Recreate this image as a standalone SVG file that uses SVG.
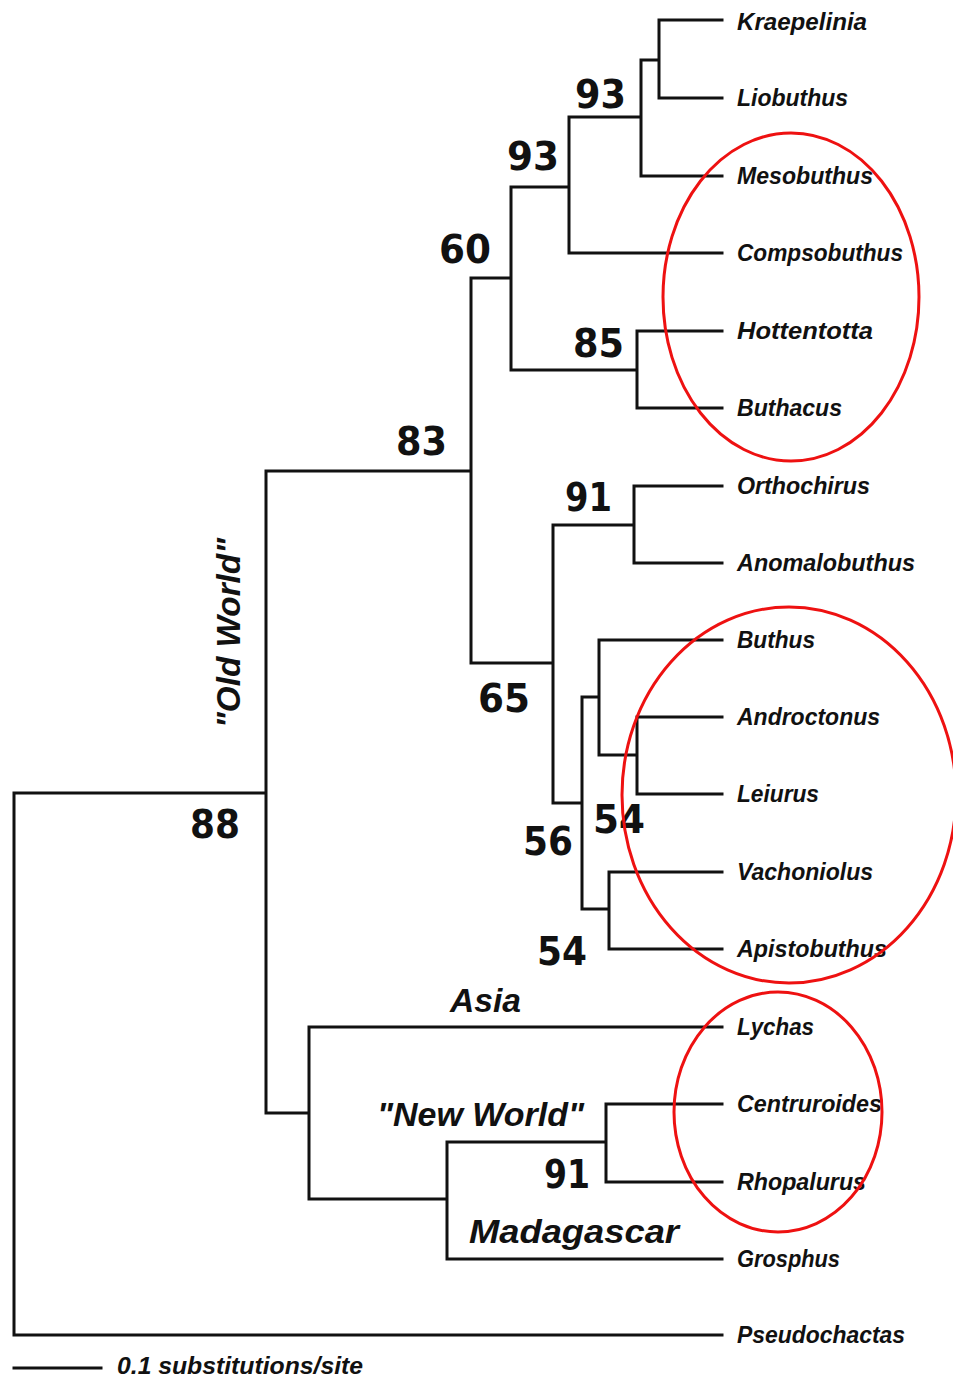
<svg xmlns="http://www.w3.org/2000/svg" width="953" height="1378" viewBox="0 0 953 1378">
<style>
.br{fill:none;stroke:#111;stroke-width:3;stroke-linecap:square}
.tx{font-family:"Liberation Sans",Arial,sans-serif;font-style:italic;font-weight:bold;font-size:23px;fill:#111}
.bs{font-family:"DejaVu Sans","Liberation Sans",sans-serif;font-weight:bold;font-size:39px;fill:#111}
.rg{font-family:"Liberation Sans",Arial,sans-serif;font-style:italic;font-weight:bold;font-size:34px;fill:#111}
.hl{fill:none;stroke:#ee1111;stroke-width:3}
</style>
<rect width="953" height="1378" fill="#fff"/>
<g id="connectors">
<path class="br" d="M14 793 V1335 H722 M14 793 H266 M266 471 V1113 M266 471 H471 M471 278 V663 M471 278 H511 M511 187 V370 M511 187 H569 M569 117 V253 H722 M569 117 H641 M641 60 V176 H722 M641 60 H659 M659 20 V98 H722 M659 20 H722 M511 370 H637 M637 331 V408 H722 M637 331 H722 M471 663 H553 M553 525 V803 M553 525 H634 M634 486 V563 H722 M634 486 H722 M553 803 H582 M582 697 V909 M582 697 H599 M599 640 V755 M599 640 H722 M599 755 H637 M637 717 V794 H722 M637 717 H722 M582 909 H609 M609 872 V949 H722 M609 872 H722 M266 1113 H309 M309 1027 V1199 M309 1027 H722 M309 1199 H447 M447 1142 V1259 H722 M447 1142 H606 M606 1104 V1182 H722 M606 1104 H722"/>
</g>
<g id="taxa">
<g id="t-kraepelinia"><text class="tx" x="737" y="30" textLength="130" lengthAdjust="spacingAndGlyphs">Kraepelinia</text></g>
<g id="t-liobuthus"><text class="tx" x="737" y="106" textLength="111" lengthAdjust="spacingAndGlyphs">Liobuthus</text></g>
<g id="t-mesobuthus"><text class="tx" x="737" y="184" textLength="136" lengthAdjust="spacingAndGlyphs">Mesobuthus</text></g>
<g id="t-compsobuthus"><text class="tx" x="737" y="261" textLength="166" lengthAdjust="spacingAndGlyphs">Compsobuthus</text></g>
<g id="t-hottentotta"><text class="tx" x="737" y="339" textLength="136" lengthAdjust="spacingAndGlyphs">Hottentotta</text></g>
<g id="t-buthacus"><text class="tx" x="737" y="416" textLength="105" lengthAdjust="spacingAndGlyphs">Buthacus</text></g>
<g id="t-orthochirus"><text class="tx" x="737" y="494" textLength="133" lengthAdjust="spacingAndGlyphs">Orthochirus</text></g>
<g id="t-anomalobuthus"><text class="tx" x="737" y="571" textLength="178" lengthAdjust="spacingAndGlyphs">Anomalobuthus</text></g>
<g id="t-buthus"><text class="tx" x="737" y="648" textLength="78" lengthAdjust="spacingAndGlyphs">Buthus</text></g>
<g id="t-androctonus"><text class="tx" x="737" y="725" textLength="143" lengthAdjust="spacingAndGlyphs">Androctonus</text></g>
<g id="t-leiurus"><text class="tx" x="737" y="802" textLength="82" lengthAdjust="spacingAndGlyphs">Leiurus</text></g>
<g id="t-vachoniolus"><text class="tx" x="737" y="880" textLength="136" lengthAdjust="spacingAndGlyphs">Vachoniolus</text></g>
<g id="t-apistobuthus"><text class="tx" x="737" y="957" textLength="150" lengthAdjust="spacingAndGlyphs">Apistobuthus</text></g>
<g id="t-lychas"><text class="tx" x="737" y="1035" textLength="77" lengthAdjust="spacingAndGlyphs">Lychas</text></g>
<g id="t-centruroides"><text class="tx" x="737" y="1112" textLength="145" lengthAdjust="spacingAndGlyphs">Centruroides</text></g>
<g id="t-rhopalurus"><text class="tx" x="737" y="1190" textLength="129" lengthAdjust="spacingAndGlyphs">Rhopalurus</text></g>
<g id="t-grosphus"><text class="tx" x="737" y="1267" textLength="103" lengthAdjust="spacingAndGlyphs">Grosphus</text></g>
<g id="t-pseudochactas"><text class="tx" x="737" y="1343" textLength="168" lengthAdjust="spacingAndGlyphs">Pseudochactas</text></g>
</g>
<g id="nodes">
<g id="n-93a"><text class="bs" x="575" y="108" textLength="51" lengthAdjust="spacingAndGlyphs">93</text></g>
<g id="n-93b"><text class="bs" x="507" y="170" textLength="52" lengthAdjust="spacingAndGlyphs">93</text></g>
<g id="n-60"><text class="bs" x="439" y="263" textLength="52" lengthAdjust="spacingAndGlyphs">60</text></g>
<g id="n-85"><text class="bs" x="573" y="357" textLength="51" lengthAdjust="spacingAndGlyphs">85</text></g>
<g id="n-83"><text class="bs" x="396" y="455" textLength="51" lengthAdjust="spacingAndGlyphs">83</text></g>
<g id="n-91a"><text class="bs" x="565" y="511" textLength="47" lengthAdjust="spacingAndGlyphs">91</text></g>
<g id="n-65"><text class="bs" x="478" y="712" textLength="52" lengthAdjust="spacingAndGlyphs">65</text></g>
<g id="n-54a"><text class="bs" x="593" y="833" textLength="52" lengthAdjust="spacingAndGlyphs">54</text></g>
<g id="n-56"><text class="bs" x="523" y="855" textLength="50" lengthAdjust="spacingAndGlyphs">56</text></g>
<g id="n-54b"><text class="bs" x="537" y="965" textLength="50" lengthAdjust="spacingAndGlyphs">54</text></g>
<g id="n-88"><text class="bs" x="190" y="838" textLength="50" lengthAdjust="spacingAndGlyphs">88</text></g>
<g id="n-91b"><text class="bs" x="544" y="1188" textLength="46" lengthAdjust="spacingAndGlyphs">91</text></g>
</g>
<g id="regions">
<text class="rg" x="0" y="0" transform="translate(240,728) rotate(-90)" textLength="190" lengthAdjust="spacingAndGlyphs">"Old World"</text>
<text class="rg" x="450" y="1012" textLength="71" lengthAdjust="spacingAndGlyphs">Asia</text>
<text class="rg" x="377" y="1126" textLength="207" lengthAdjust="spacingAndGlyphs">"New World"</text>
<text class="rg" x="469" y="1243" textLength="210" lengthAdjust="spacingAndGlyphs">Madagascar</text>
</g>
<g id="highlights">
<ellipse class="hl" cx="791" cy="297" rx="128" ry="164"/>
<ellipse class="hl" cx="789" cy="795" rx="167" ry="188"/>
<ellipse class="hl" cx="778" cy="1112" rx="104" ry="120"/>
</g>
<g id="scale">
<path class="br" d="M14 1368 H101"/>
<text class="tx" x="117" y="1374" textLength="246" lengthAdjust="spacingAndGlyphs">0.1 substitutions/site</text>
</g>
</svg>
